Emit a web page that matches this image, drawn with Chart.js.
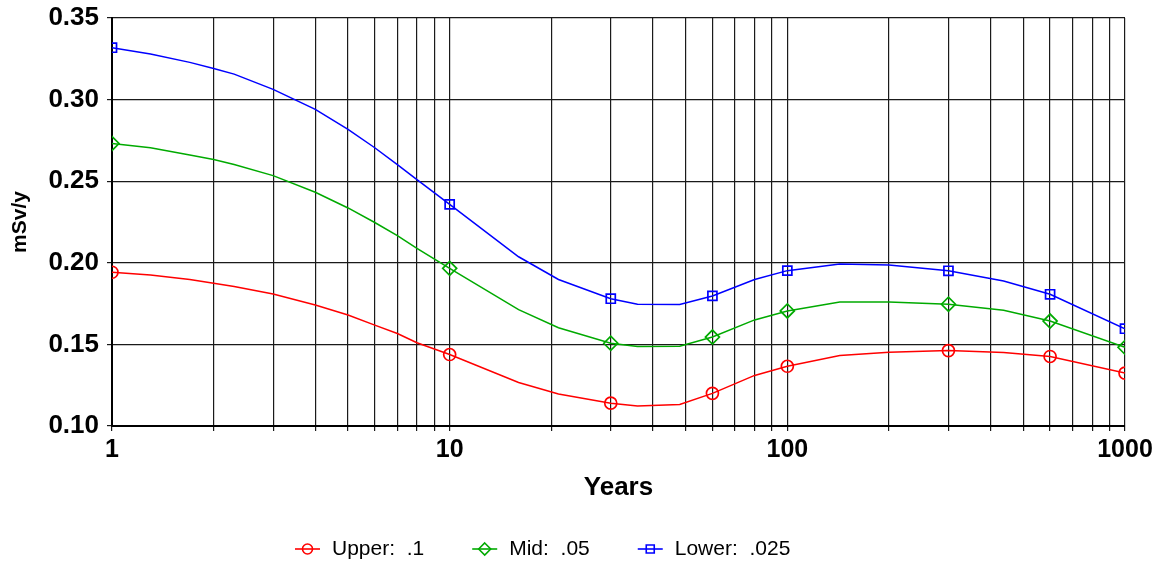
<!DOCTYPE html>
<html>
<head>
<meta charset="utf-8">
<script src="https://cdn.jsdelivr.net/npm/chart.js@4.4.1/dist/chart.umd.min.js"></script>
<style>
html,body{margin:0;padding:0;background:#fff;}
#wrap{width:1164px;height:562px;position:relative;}
</style>
</head>
<body>
<div id="wrap"><canvas id="c"></canvas></div>
<script>
// ---- data ----
const years  = [1, 1.3, 1.7, 2, 2.3, 3, 4, 5, 6, 7, 8, 10, 16, 21, 30, 36, 48, 60, 80, 100, 143, 200, 300, 437, 600, 1000];
const upper  = [0.1942, 0.1925, 0.1897, 0.1875, 0.1855, 0.1809, 0.1741, 0.1680, 0.1618, 0.1567, 0.1510, 0.1438, 0.1267, 0.1196, 0.1140, 0.1122, 0.1132, 0.1200, 0.1310, 0.1366, 0.1432, 0.1452, 0.1462, 0.1451, 0.1426, 0.1324];
const mid    = [0.2731, 0.2705, 0.2660, 0.2633, 0.2602, 0.2534, 0.2432, 0.2336, 0.2247, 0.2166, 0.2089, 0.1966, 0.1713, 0.1602, 0.1507, 0.1487, 0.1489, 0.1545, 0.1650, 0.1705, 0.1760, 0.1760, 0.1746, 0.1709, 0.1643, 0.1482];
const lower  = [0.3318, 0.3280, 0.3228, 0.3191, 0.3156, 0.3063, 0.2940, 0.2817, 0.2705, 0.2602, 0.2510, 0.2358, 0.2037, 0.1898, 0.1780, 0.1746, 0.1744, 0.1797, 0.1898, 0.1952, 0.1993, 0.1987, 0.1951, 0.1889, 0.1807, 0.1596];
const markerYears = [1, 10, 30, 60, 100, 300, 600, 1000];
const seriesLabels = ['Upper:  .1', 'Mid:  .05', 'Lower:  .025'];
const xTickLabels = [1, 10, 100, 1000];
const xGridValues = [1,2,3,4,5,6,7,8,9,10,20,30,40,50,60,70,80,90,100,200,300,400,500,600,700,800,900,1000];
const yMin = 0.10, yMax = 0.35, yStep = 0.05;

const FONT = '"Liberation Sans", Arial, Helvetica, sans-serif';

function pts(vals){ return years.map((x,i)=>({x:x, y:vals[i]})); }
function markerRadius(r){ return ctx => markerYears.includes(years[ctx.dataIndex]) ? r : 0; }

function makeDataset(label, vals, color, style, r){
  return {
    label: label,
    data: pts(vals),
    borderColor: color,
    backgroundColor: 'rgba(0,0,0,0)',
    pointBackgroundColor: 'rgba(0,0,0,0)',
    pointBorderColor: color,
    pointBorderWidth: 1.7,
    pointStyle: style,
    pointRadius: markerRadius(r),
    pointHoverRadius: markerRadius(r),
    borderWidth: 1.5,
    tension: 0,
    fill: false,
    clip: 0
  };
}

const legendPlugin = {
  id: 'lineLegend',
  afterDraw(chart){
    const ctx = chart.ctx;
    ctx.save();
    ctx.font = '21px ' + FONT;
    ctx.textBaseline = 'middle';
    ctx.textAlign = 'left';
    let x = 295;
    const y = 549;
    chart.data.datasets.forEach(ds => {
      const c = ds.borderColor;
      ctx.strokeStyle = c;
      ctx.lineWidth = 1.6;
      ctx.beginPath(); ctx.moveTo(x, y); ctx.lineTo(x + 25, y); ctx.stroke();
      const cx = x + 12.5;
      ctx.beginPath();
      if (ds.pointStyle === 'circle') { ctx.arc(cx, y, 5, 0, Math.PI*2); }
      else if (ds.pointStyle === 'rectRot') { ctx.moveTo(cx, y-6); ctx.lineTo(cx+6, y); ctx.lineTo(cx, y+6); ctx.lineTo(cx-6, y); ctx.closePath(); }
      else { ctx.rect(cx-4, y-4, 8, 8); }
      ctx.stroke();
      x += 25 + 12;
      ctx.fillStyle = '#000';
      ctx.fillText(ds.label, x, y);
      x += ctx.measureText(ds.label).width + 48;
    });
    ctx.restore();
  }
};

new Chart(document.getElementById('c'), {
  type: 'line',
  data: {
    datasets: [
      makeDataset(seriesLabels[0], upper, '#ff0000', 'circle', 6),
      makeDataset(seriesLabels[1], mid,   '#00aa00', 'rectRot', 7),
      makeDataset(seriesLabels[2], lower, '#0000ff', 'rect', 6.4)
    ]
  },
  options: {
    responsive: true,
    maintainAspectRatio: false,
    animation: false,
    layout: { padding: { left: 0, right: 39, top: 18, bottom: 50 } },
    plugins: {
      legend: { display: false },
      tooltip: { enabled: false }
    },
    scales: {
      x: {
        type: 'logarithmic',
        min: 1, max: 1000,
        afterBuildTicks(scale){ scale.ticks = xGridValues.map(v => ({value: v})); },
        afterFit(scale){ scale.height = 86; scale.paddingLeft = 0; scale.paddingRight = 0; },
        ticks: {
          autoSkip: false, maxRotation: 0, minRotation: 0,
          padding: 4,
          color: '#000',
          font: { family: FONT, size: 25, weight: 'bold' },
          callback(v){ return xTickLabels.includes(v) ? String(v) : ''; }
        },
        grid: { color: '#1a1a1a', lineWidth: 1.2, tickLength: 5, drawTicks: true },
        border: { color: '#000', width: 2 },
        title: {
          display: true, text: 'Years', color: '#000',
          font: { family: FONT, size: 26, weight: 'bold' },
          padding: { top: 0, bottom: 9 }
        }
      },
      y: {
        type: 'linear',
        min: yMin, max: yMax,
        afterFit(scale){ scale.width = 112; scale.paddingTop = 0; scale.paddingBottom = 0; },
        ticks: {
          stepSize: yStep,
          padding: 8,
          color: '#000',
          font: { family: FONT, size: 26, weight: 'bold' },
          callback(v){ return v.toFixed(2); }
        },
        grid: { color: '#1a1a1a', lineWidth: 1.2, tickLength: 5, drawTicks: true },
        border: { color: '#000', width: 2 },
        title: {
          display: true, text: 'mSv/y', color: '#000',
          font: { family: FONT, size: 21, weight: 'bold' },
          padding: { top: 8, bottom: 0 }
        }
      }
    }
  },
  plugins: [legendPlugin]
});
</script>
</body>
</html>
